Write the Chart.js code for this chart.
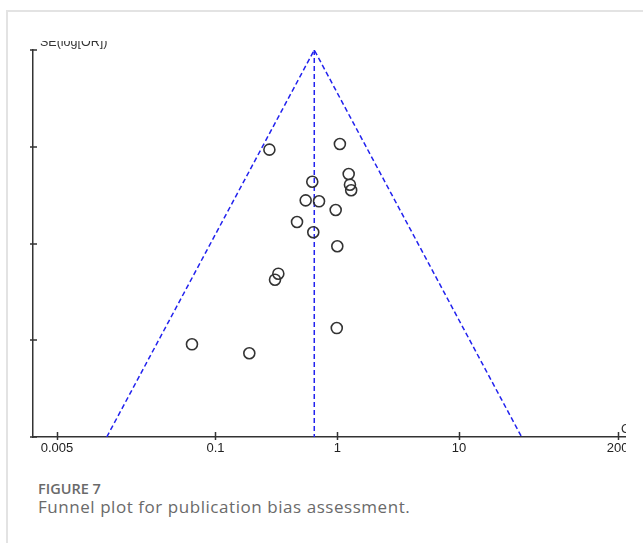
<!DOCTYPE html>
<html>
<head>
<meta charset="utf-8">
<script src="https://cdn.jsdelivr.net/npm/chart.js@4.4.1/dist/chart.umd.min.js"></script>
<style>
  body { margin: 0; background: #fff; width: 643px; height: 543px; overflow: hidden; position: relative; }
  .card { position: absolute; left: 6px; top: 10px; width: 700px; height: 600px;
          border-left: 2px solid #e3e3e3; border-top: 2px solid #e3e3e3; }
  .fig { position: absolute; left: 0; top: 41px; width: 626px; height: 415px; overflow: hidden; }
  .cap1 { position: absolute; left: 38px; top: 482px; font: 600 14.5px/14.5px "Open Sans", sans-serif; color: #6a6a6a; }
  .cap2 { position: absolute; left: 38px; top: 498px; font: 400 17px/17px "Open Sans", sans-serif; color: #6a6a6a; letter-spacing: 0.55px; }
</style>
</head>
<body>
<div class="card"></div>
<div class="fig"><canvas id="funnel" width="680" height="415"></canvas></div>
<div class="cap1">FIGURE 7</div>
<div class="cap2">Funnel plot for publication bias assessment.</div>
<script>
// studies: odds ratio and SE(log[OR])
const studyOR = [0.277, 1.05, 0.623, 1.24, 1.27, 1.30, 0.550, 0.708, 0.97, 0.467, 0.635, 1.00, 0.328, 0.308, 0.99, 0.0641, 0.1895];
const studySE = [0.515, 0.486, 0.681, 0.641, 0.696, 0.725, 0.777, 0.782, 0.827, 0.889, 0.942, 1.014, 1.156, 1.187, 1.437, 1.521, 1.567];

// pooled estimate and funnel limits
const pooledOR = [0.647, 0.647];
const pooledSE = [0, 2];
const funnelOR = [0.0128, 0.647, 32.6];
const funnelSE = [2, 0, 2];

const xTicks = [0.005, 0.1, 1, 10, 200];
const yTicks = [0, 0.5, 1, 1.5, 2];

const blue = 'rgb(34, 34, 238)';
const ink = '#333';

function toPoints(xs, ys) {
    return xs.map((x, i) => ({ x: x, y: ys[i] }));
}

// ticks that cross the axis line, plus the clipped axis titles
const axisDecor = {
    id: 'axisDecor',
    afterDraw(chart) {
        const ctx = chart.ctx, xs = chart.scales.x, ys = chart.scales.y;
        const area = chart.chartArea;
        ctx.save();
        ctx.strokeStyle = ink;
        ctx.lineWidth = 1.5;
        ctx.beginPath();
        xTicks.forEach(v => {
            const px = Math.round(xs.getPixelForValue(v)) + 0.5;
            ctx.moveTo(px, area.bottom - 5);
            ctx.lineTo(px, area.bottom + 3);
        });
        yTicks.forEach(v => {
            const py = Math.round(ys.getPixelForValue(v));
            ctx.moveTo(area.left - 3, py);
            ctx.lineTo(area.left + 4, py);
        });
        ctx.stroke();
        ctx.fillStyle = ink;
        ctx.font = '12.5px "Liberation Sans", Arial, sans-serif';
        ctx.textBaseline = 'alphabetic';
        ctx.fillText('SE(log[OR])', area.left + 7, 5);
        ctx.font = '13px "Liberation Sans", Arial, sans-serif';
        ctx.fillText('OR', 621, area.bottom - 4);
        ctx.restore();
    }
};

const ctx = document.getElementById('funnel').getContext('2d');
window.myChart = new Chart(ctx, {
    type: 'scatter',
    data: {
        datasets: [{
            data: toPoints(studyOR, studySE),
            pointStyle: 'circle',
            pointRadius: 5.5,
            borderWidth: 1.6,
            borderColor: ink,
            backgroundColor: 'rgba(0,0,0,0)'
        }, {
            data: toPoints(pooledOR, pooledSE),
            showLine: true,
            borderColor: blue,
            borderWidth: 1.5,
            borderDash: [5, 3],
            pointRadius: 0
        }, {
            data: toPoints(funnelOR, funnelSE),
            showLine: true,
            borderColor: blue,
            borderWidth: 1.5,
            borderDash: [5, 3],
            pointRadius: 0
        }]
    },
    options: {
        responsive: false,
        animation: false,
        layout: { padding: { top: 9, left: 0, right: 20, bottom: 0 } },
        plugins: { legend: { display: false }, tooltip: { enabled: false } },
        scales: {
            x: {
                type: 'logarithmic',
                bounds: 'data',
                min: 0.003175,
                max: 446,
                afterBuildTicks: s => { s.ticks = xTicks.map(v => ({ value: v })); },
                afterFit: s => { s.height = 19; },
                grid: { drawOnChartArea: false, drawTicks: false },
                border: { display: true, color: ink, width: 1.5 },
                ticks: {
                    padding: 4,
                    color: '#222',
                    font: { family: '"Liberation Sans", Arial, sans-serif', size: 13 },
                    autoSkip: false,
                    maxRotation: 0,
                    callback: v => String(v)
                }
            },
            y: {
                type: 'linear',
                reverse: true,
                min: 0,
                max: 2,
                afterBuildTicks: s => { s.ticks = yTicks.map(v => ({ value: v })); },
                afterFit: s => { s.width = 33; },
                grid: { drawOnChartArea: false, drawTicks: false },
                border: { display: true, color: ink, width: 1.5 },
                ticks: { display: false }
            }
        }
    },
    plugins: [axisDecor]
});
</script>
</body>
</html>
